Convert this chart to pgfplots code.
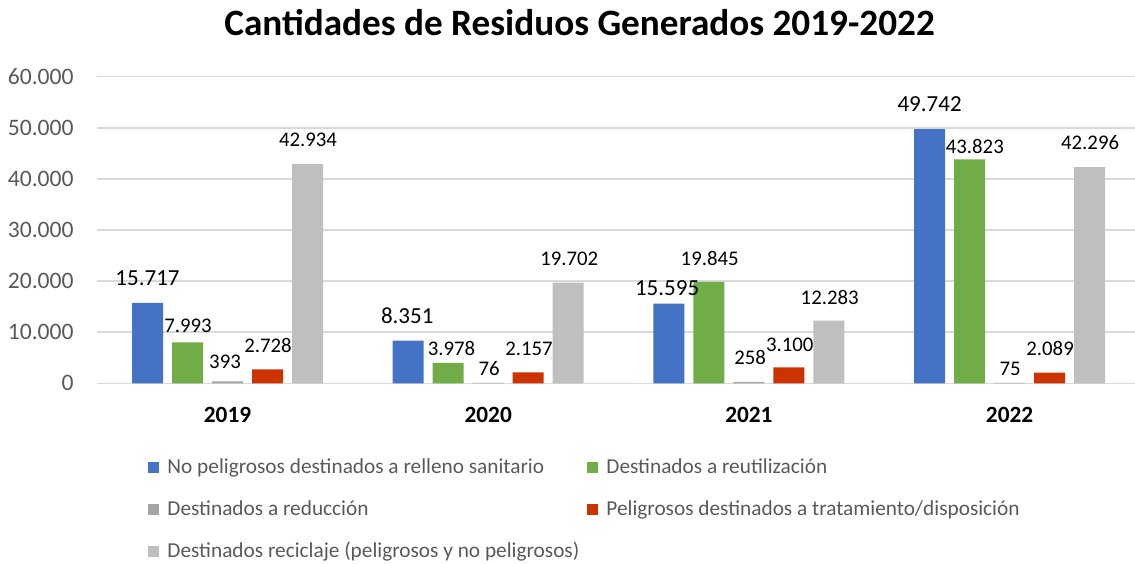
\documentclass[border=0pt]{standalone}
\usepackage{pgfplots}
\pgfplotsset{compat=1.18}
\usepackage{pgfplotstable}
\usepackage{fontspec}
\setmainfont{Carlito}
\definecolor{cblue}{HTML}{4472C4}
\definecolor{cgreen}{HTML}{70AD47}
\definecolor{cgray}{HTML}{A5A5A5}
\definecolor{cred}{HTML}{CC3300}
\definecolor{clgray}{HTML}{BFBFBF}
\definecolor{gridgray}{HTML}{D9D9D9}
\definecolor{tickgray}{HTML}{595959}

\pgfplotstableread{
x y lab dx dy
0 15717 15.717 0 12.4
1 8351 8.351 -0.5 12.5
2 15595 15.595 -0.9 7.85
3 49742 49.742 0 12.5
}\tblue
\pgfplotstableread{
x y lab dx dy
0 7993 7.993 0.25 8.4
1 3978 3.978 1.65 7.15
2 19845 19.845 0.4 11.7
3 43823 43.823 2.6 6.65
}\tgreen
\pgfplotstableread{
x y lab dx dy
0 393 393 -1.25 9.5
1 76 76 0.5 7
2 258 258 0.6 12.35
3 75 75 0.25 6.85
}\tgray
\pgfplotstableread{
x y lab dx dy
0 2728 2.728 0.25 11.85
1 2157 2.157 0.4 11.85
2 3100 3.100 0.4 11.5
3 2089 2.089 0.25 12
}\tred
\pgfplotstableread{
x y lab dx dy
0 42934 42.934 0.25 12.15
1 19702 19.702 0.5 11.7
2 12283 12.283 0.4 11.7
3 42296 42.296 0.25 12.15
}\tlgray

\pgfplotsset{lbl/.style={nodes near coords, point meta=explicit symbolic,
  visualization depends on={\thisrow{dx}\as\dx},
  visualization depends on={\thisrow{dy}\as\dy},
  nodes near coords style={anchor=center, xshift=\dx pt, yshift=\dy pt,
    font=\fontsize{#1}{12}\selectfont, text=black, inner sep=0pt}}}

\begin{document}
\begin{tikzpicture}
\useasboundingbox (0,0) rectangle (567.5pt,281.5pt);
\begin{axis}[
  at={(48.6pt,89.85pt)}, anchor=south west,
  scale only axis, width=518.9pt, height=153.3pt,
  xmin=-0.5, xmax=3.481, ymin=0, ymax=60000,
  enlarge x limits=false, enlarge y limits=false,
  clip=false,
  ybar=4.5pt, bar width=15.5pt,
  xtick={0,1,2,3}, xticklabels={2019,2020,2021,2022},
  ytick={0,10000,20000,30000,40000,50000,60000},
  scaled y ticks=false,
  /pgf/number format/1000 sep={.},
  /pgf/number format/assume math mode=true,
  ymajorgrids, grid style={color=gridgray, line width=0.75pt},
  axis x line*=bottom, axis y line*=left,
  y axis line style={draw=none},
  x axis line style={color=gridgray, line width=0.75pt},
  major tick length=0pt, tick style={draw=none},
  yticklabel style={font=\fontsize{11.8}{14}\selectfont, text=tickgray, inner sep=0pt, xshift=-11.6pt},
  xticklabel style={font=\bfseries\fontsize{11.65}{14}\selectfont, text=black, anchor=center, inner sep=0pt, yshift=-15.85pt},
  legend columns=2,
  legend image code/.code={\fill[#1] (0pt,-2.75pt) rectangle (5.5pt,2.75pt);},
  legend style={at={(0.049,-0.231)}, anchor=north west, draw=none, fill=none,
    font=\fontsize{10.65}{12.5}\selectfont, text=tickgray, inner sep=0pt,
    row sep=8pt, cells={anchor=west}},
  legend cell align=left,
]
\addplot[fill=cblue, draw=none, lbl=11.5] table[x=x, y=y, meta=lab] {\tblue};
\addlegendentry{\hspace{2pt}\makebox[208pt][l]{No peligrosos destinados a relleno sanitario}}
\addplot[fill=cgreen, draw=none, lbl=10.4] table[x=x, y=y, meta=lab] {\tgreen};
\addlegendentry{\hspace{2pt}Destinados a reutilización}
\addplot[fill=cgray, draw=none, lbl=10.4] table[x=x, y=y, meta=lab] {\tgray};
\addlegendentry{\hspace{2pt}\makebox[208pt][l]{Destinados a reducción}}
\addplot[fill=cred, draw=none, lbl=10.4] table[x=x, y=y, meta=lab] {\tred};
\addlegendentry{\hspace{2pt}Peligrosos destinados a tratamiento/disposición}
\addplot[fill=clgray, draw=none, lbl=10.4] table[x=x, y=y, meta=lab] {\tlgray};
\addlegendentry{\hspace{2pt}\makebox[208pt][l]{Destinados reciclaje (peligrosos y no peligrosos)}}
\node[font=\bfseries\fontsize{18.6}{22}\selectfont, text=black] at (axis description cs:0.4648,1.178) {Cantidades de Residuos Generados 2019-2022};
\end{axis}
\end{tikzpicture}
\end{document}
